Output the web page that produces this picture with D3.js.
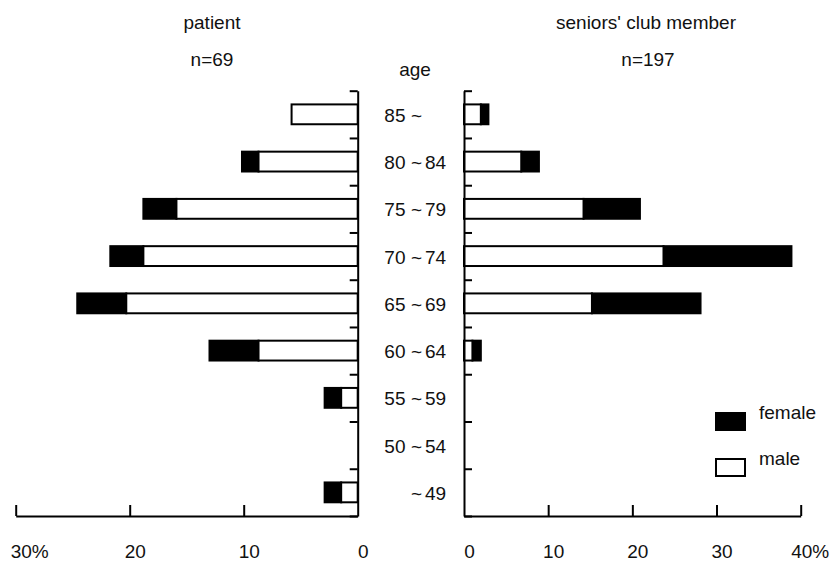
<!DOCTYPE html>
<html>
<head>
<meta charset="utf-8">
<script src="https://cdn.jsdelivr.net/npm/d3@7"></script>
<style>
  body { margin: 0; background: #fff; }
  svg text { font-family: "Liberation Sans", Arial, sans-serif; font-size: 19px; fill: #111; }
</style>
</head>
<body>
<div id="chart"></div>
<script>

// age groups, top to bottom
const ageGroups = ['85 ~', '80 ~ 84', '75 ~ 79', '70 ~ 74', '65 ~ 69', '60 ~ 64', '55 ~ 59', '50 ~ 54', '~ 49']

// percentages
const patientMale   = [5.8, 8.7, 15.9, 18.8, 20.3, 8.7, 1.45, 0, 1.45]
const patientFemale = [0, 1.45, 2.9, 2.9, 4.3, 4.3, 1.45, 0, 1.45]
const clubMale      = [2.0, 6.8, 14.2, 23.7, 15.2, 1.0, 0, 0, 0]
const clubFemale    = [0.9, 2.1, 6.7, 15.2, 12.9, 1.0, 0, 0, 0]

const leftTicks  = [30, 20, 10, 0]
const rightTicks = [0, 10, 20, 30, 40]

const width = 832
	, height = 562
	, plotTop = 90.7
	, plotBottom = 516
	, strokeW = 2

const svg = d3.select('#chart').append('svg')
	.attr('width', width)
	.attr('height', height)

// scales
const xLeft = d3.scaleLinear().domain([0, 30]).range([357.7, 15.7])
	, xRight = d3.scaleLinear().domain([0, 40]).range([464, 800.7])
	, y = d3.scaleBand().domain(ageGroups).range([plotTop, plotBottom])
		.paddingInner(0.58).paddingOuter(0.29)
	, yEdge = d3.scaleLinear().domain([0, ageGroups.length]).range([plotTop, plotBottom])

const rows = ageGroups.map((g, i) => ({
	group: g
	, pm: patientMale[i], pf: patientFemale[i]
	, cm: clubMale[i], cf: clubFemale[i]
}))

// bars
function drawBars(g, x, mKey, fKey) {
	const sel = g.selectAll('g.row').data(rows).join('g').attr('class', 'row')

	sel.filter(d => d[fKey] > 0).append('rect')
		.attr('x', d => Math.min(x(d[mKey]), x(d[mKey] + d[fKey])))
		.attr('width', d => Math.abs(x(d[mKey] + d[fKey]) - x(d[mKey])))
		.attr('y', d => y(d.group))
		.attr('height', y.bandwidth())
		.attr('fill', '#000')
		.attr('stroke', '#000')
		.attr('stroke-width', strokeW)

	sel.filter(d => d[mKey] > 0).append('rect')
		.attr('x', d => Math.min(x(0), x(d[mKey])))
		.attr('width', d => Math.abs(x(d[mKey]) - x(0)))
		.attr('y', d => y(d.group))
		.attr('height', y.bandwidth())
		.attr('fill', '#fff')
		.attr('stroke', '#000')
		.attr('stroke-width', strokeW)
}

drawBars(svg.append('g'), xLeft, 'pm', 'pf')
drawBars(svg.append('g'), xRight, 'cm', 'cf')

// axes
function styleAxis(g) {
	g.selectAll('path, line').attr('stroke', '#000').attr('stroke-width', strokeW)
	g.selectAll('text').remove()
}

svg.append('g')
	.attr('transform', 'translate(' + xLeft(0) + ',0)')
	.call(d3.axisLeft(yEdge).ticks(ageGroups.length).tickSize(8).tickSizeOuter(0).tickFormat(''))
	.call(styleAxis)

svg.append('g')
	.attr('transform', 'translate(' + xRight(0) + ',0)')
	.call(d3.axisRight(yEdge).ticks(ageGroups.length).tickSize(8).tickSizeOuter(0).tickFormat(''))
	.call(styleAxis)

svg.append('g')
	.attr('transform', 'translate(0,' + plotBottom + ')')
	.call(d3.axisTop(xLeft).tickValues(leftTicks.filter(v => v > 0)).tickSize(11).tickSizeOuter(0))
	.call(styleAxis)

svg.append('g')
	.attr('transform', 'translate(0,' + plotBottom + ')')
	.call(d3.axisTop(xRight).tickValues(rightTicks.filter(v => v > 0)).tickSize(11).tickSizeOuter(0))
	.call(styleAxis)

// x tick labels: numbers sit a little right of the tick, the end value carries the %
function tickLabels(x, values, pctValue, pctShift) {
	svg.append('g').selectAll('text').data(values).join('text')
		.attr('x', v => x(v) + (v === pctValue ? pctShift : 5.5))
		.attr('y', 558)
		.attr('text-anchor', 'middle')
		.text(v => v === pctValue ? v + '%' : v)
}
tickLabels(xLeft, leftTicks, 30, 14)
tickLabels(xRight, rightTicks, 40, 9.5)

// age labels, aligned on the tilde
const ageLabels = svg.append('g')
ageGroups.forEach(g => {
	const parts = g.split('~').map(s => s.trim())
		, cy = y(g) + y.bandwidth() / 2 + 7.5
	if (parts[0]) ageLabels.append('text').attr('x', 405.5).attr('y', cy).attr('text-anchor', 'end').text(parts[0])
	ageLabels.append('text').attr('x', 416.5).attr('y', cy).attr('text-anchor', 'middle').text('~')
	if (parts[1]) ageLabels.append('text').attr('x', 425).attr('y', cy).text(parts[1])
})

// titles
svg.append('text').attr('x', 212).attr('y', 29).attr('text-anchor', 'middle').text('patient')
svg.append('text').attr('x', 212).attr('y', 65.5).attr('text-anchor', 'middle').text('n=69')
svg.append('text').attr('x', 646).attr('y', 28.5).attr('text-anchor', 'middle').text("seniors' club member")
svg.append('text').attr('x', 648).attr('y', 65.5).attr('text-anchor', 'middle').text('n=197')
svg.append('text').attr('x', 415).attr('y', 76).attr('text-anchor', 'middle').text('age')

// legend
const legend = [
	{ label: 'female', fill: '#000', y: 413 }
	, { label: 'male', fill: '#fff', y: 459 }
]
const lg = svg.append('g').selectAll('g').data(legend).join('g')
lg.append('rect')
	.attr('x', 716).attr('y', d => d.y)
	.attr('width', 29).attr('height', 17)
	.attr('fill', d => d.fill)
	.attr('stroke', '#000').attr('stroke-width', strokeW)
lg.append('text')
	.attr('x', 759).attr('y', d => d.y + 6)
	.text(d => d.label)

</script>
</body>
</html>
